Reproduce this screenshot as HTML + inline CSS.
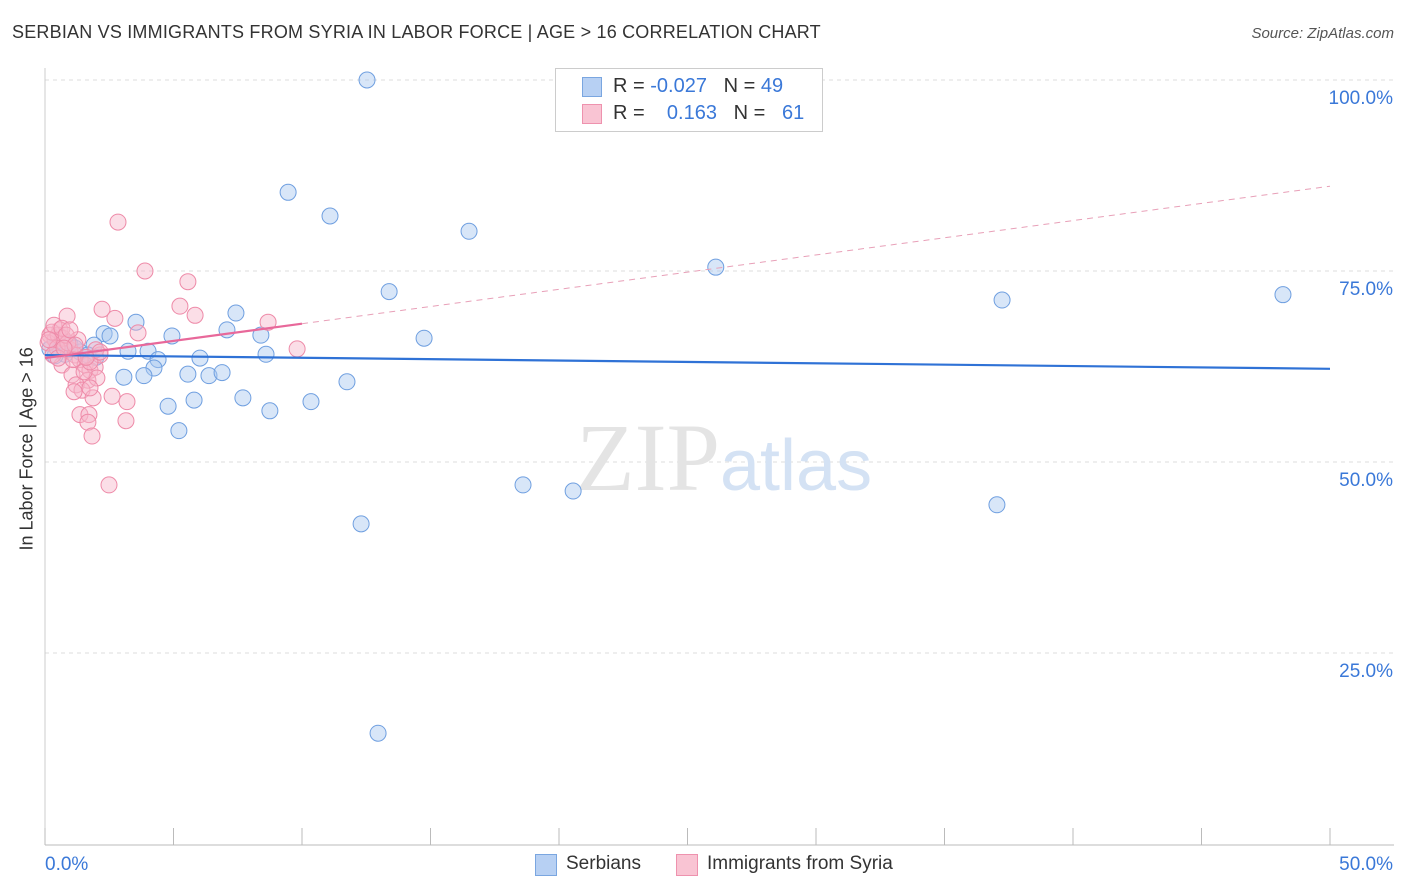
<!DOCTYPE html>
<html><head><meta charset="utf-8"><style>
body{margin:0;background:#fff;font-family:"Liberation Sans",sans-serif;}
#wrap{position:relative;width:1406px;height:892px;overflow:hidden;}
.t{position:absolute;white-space:nowrap;}
</style></head><body>
<div id="wrap">
<div class="t" style="left:12px;top:22px;font-size:18px;color:#333;letter-spacing:0.2px">SERBIAN VS IMMIGRANTS FROM SYRIA IN LABOR FORCE | AGE &gt; 16 CORRELATION CHART</div>
<div class="t" style="right:12px;top:25px;font-size:15px;color:#555;font-style:italic">Source: ZipAtlas.com</div>
<div class="t" style="left:-68px;top:445px;font-size:18px;color:#333;transform:rotate(-90deg);width:190px;text-align:center">In Labor Force | Age &gt; 16</div>
<svg id="svg" width="1406" height="892" style="position:absolute;left:0;top:0">
<g id="grid"></g>
<text x="720" y="490" text-anchor="end" font-family="Liberation Serif" font-size="96" fill="#e4e4e4">ZIP</text>
<text x="720" y="490" font-family="Liberation Sans" font-size="72" fill="#d4e2f4">atlas</text>
<g id="pts"></g><g id="lines"></g>
</svg>
<div style="position:absolute;left:555px;top:68px;width:266px;height:62px;border:1px solid #ccc;background:#fff;font-size:20px;color:#333">
 <div style="position:absolute;left:26px;top:8px;width:18px;height:18px;background:#b7d0f3;border:1px solid #7aa6e0"></div>
 <div class="t" style="left:57px;top:6px">R = <span style="color:#3a78d8">-0.027</span>&nbsp;&nbsp;&nbsp;N = <span style="color:#3a78d8">49</span></div>
 <div style="position:absolute;left:26px;top:35px;width:18px;height:18px;background:#f9c4d3;border:1px solid #ee92ae"></div>
 <div class="t" style="left:57px;top:33px">R = &nbsp;&nbsp;&nbsp;<span style="color:#3a78d8">0.163</span>&nbsp;&nbsp;&nbsp;N = &nbsp;&nbsp;<span style="color:#3a78d8">61</span></div>
</div>
<div style="position:absolute;left:535px;top:854px;width:20px;height:20px;background:#b7d0f3;border:1px solid #7aa6e0"></div>
<div class="t" style="left:566px;top:853px;font-size:19px;color:#333">Serbians</div>
<div style="position:absolute;left:676px;top:854px;width:20px;height:20px;background:#f9c4d3;border:1px solid #ee92ae"></div>
<div class="t" style="left:707px;top:853px;font-size:19px;color:#333">Immigrants from Syria</div>
</div>
<script>
const yTicks=[100,75,50,25];
const xTickLabels=["0.0%","50.0%"];
const serbX=[12.53,9.46,11.09,16.5,26.1,13.39,37.24,48.17,7.43,3.54,7.08,4.94,2.30,2.53,8.40,14.75,1.91,3.23,4.01,8.60,6.03,4.40,4.24,5.56,6.38,6.89,3.07,3.85,11.75,5.80,7.70,10.35,4.79,8.75,5.21,18.6,20.55,12.3,37.04,12.96,1.98,0.58,0.97,0.78,0.39,1.36,0.19,1.17,1.67];
const serbY=[100,85.3,82.2,80.2,75.5,72.3,71.2,71.9,69.5,68.3,67.3,66.5,66.8,66.5,66.6,66.2,65.3,64.5,64.5,64.1,63.6,63.4,62.3,61.5,61.3,61.7,61.1,61.3,60.5,58.1,58.4,57.9,57.3,56.7,54.1,47.0,46.2,41.9,44.4,14.5,63.7,64.8,65.4,64.1,63.9,64.4,64.8,64.9,64.0];
const syrX=[2.84,3.89,5.56,5.25,5.84,2.22,2.72,0.86,8.68,3.62,9.81,0.58,0.19,0.39,0.78,0.97,0.12,1.17,1.36,1.56,1.75,1.95,2.14,1.28,0.66,1.05,1.67,2.02,1.21,1.44,2.61,1.87,3.19,1.36,1.71,1.67,3.15,1.83,2.49,0.51,0.70,0.27,0.47,0.89,1.09,1.52,1.75,1.98,2.14,0.35,0.66,0.82,0.97,1.17,0.31,0.51,0.74,1.60,1.75,1.13,0.16];
const syrY=[81.4,75.0,73.6,70.4,69.2,70.0,68.8,69.1,68.3,66.9,64.8,67.3,66.6,66.0,65.3,64.7,65.6,64.0,63.4,62.7,62.0,62.4,64.0,66.0,62.7,61.4,60.7,61.0,60.1,59.4,58.6,58.4,57.9,56.2,56.2,55.2,55.4,53.4,47.0,66.6,66.2,67.0,64.9,65.6,63.4,61.8,63.1,64.7,64.4,67.9,67.5,66.6,67.3,65.3,64.0,63.6,64.9,63.7,59.7,59.2,66.0];
const serbTrend=[64.0,62.2];
const syrTrend=[63.6,86.1];
const X0=45,X1=1330,Y0=844,Y100=80;
const sx=v=>X0+(X1-X0)*v/50, sy=v=>Y0-(Y0-Y100)*v/100;
const NS="http://www.w3.org/2000/svg";
function mk(p,tag,a){const e=document.createElementNS(NS,tag);for(const k in a)e.setAttribute(k,a[k]);p.appendChild(e);return e;}
const grid=document.getElementById('grid'),pts=document.getElementById('pts'),lines=document.getElementById('lines'),svg=document.getElementById('svg');
yTicks.forEach(v=>{
 const l=mk(grid,'line',{x1:X0,x2:1394,y1:sy(v),y2:sy(v),stroke:'#ddd','stroke-dasharray':'4,4'});
 
 
 const t=mk(svg,'text',{x:1393,y:sy(v)+24,'text-anchor':'end','font-size':19,fill:'#3a78d8'});
 t.textContent=v.toFixed(1)+'%';
 
 
});
const ax=mk(grid,'line',{x1:X0,x2:1394,y1:845,y2:845,stroke:'#bbb'});


const ay=mk(grid,'line',{x1:X0,x2:X0,y1:68,y2:845,stroke:'#ccc'});


for(let i=0;i<=10;i++){
 const tk=mk(grid,'line',{x1:sx(i*5),x2:sx(i*5),y1:828,y2:845,stroke:'#bbb'});
 
 
}
[[0,'start',45],[50,'end',1393]].forEach((d,i)=>{
 const t=mk(svg,'text',{x:d[2],y:870,'text-anchor':d[1],'font-size':19,fill:'#3a78d8'});
 t.textContent=xTickLabels[i];
 
 
});
serbX.forEach((v,i)=>{
 const c=mk(pts,'circle',{cx:sx(v),cy:sy(serbY[i]),r:8,fill:'rgba(168,200,240,0.45)',stroke:'#6f9fe0','stroke-width':1});
 
 
});
syrX.forEach((v,i)=>{
 const c=mk(pts,'circle',{cx:sx(v),cy:sy(syrY[i]),r:8,fill:'rgba(247,182,201,0.45)',stroke:'#ee8aa8','stroke-width':1});
 
 
});
const bl=mk(lines,'line',{x1:sx(0),y1:sy(serbTrend[0]),x2:sx(50),y2:sy(serbTrend[1]),stroke:'#2f72d6','stroke-width':2.2});


const py=x=>syrTrend[0]+(syrTrend[1]-syrTrend[0])*x/50;
const pl=mk(lines,'line',{x1:sx(0),y1:sy(py(0)),x2:sx(10),y2:sy(py(10)),stroke:'#e8689a','stroke-width':2.2});


const pd=mk(lines,'line',{x1:sx(10),y1:sy(py(10)),x2:sx(50),y2:sy(py(50)),stroke:'#e8a0b8','stroke-width':1,'stroke-dasharray':'6,5'});


</script>
</body></html>
